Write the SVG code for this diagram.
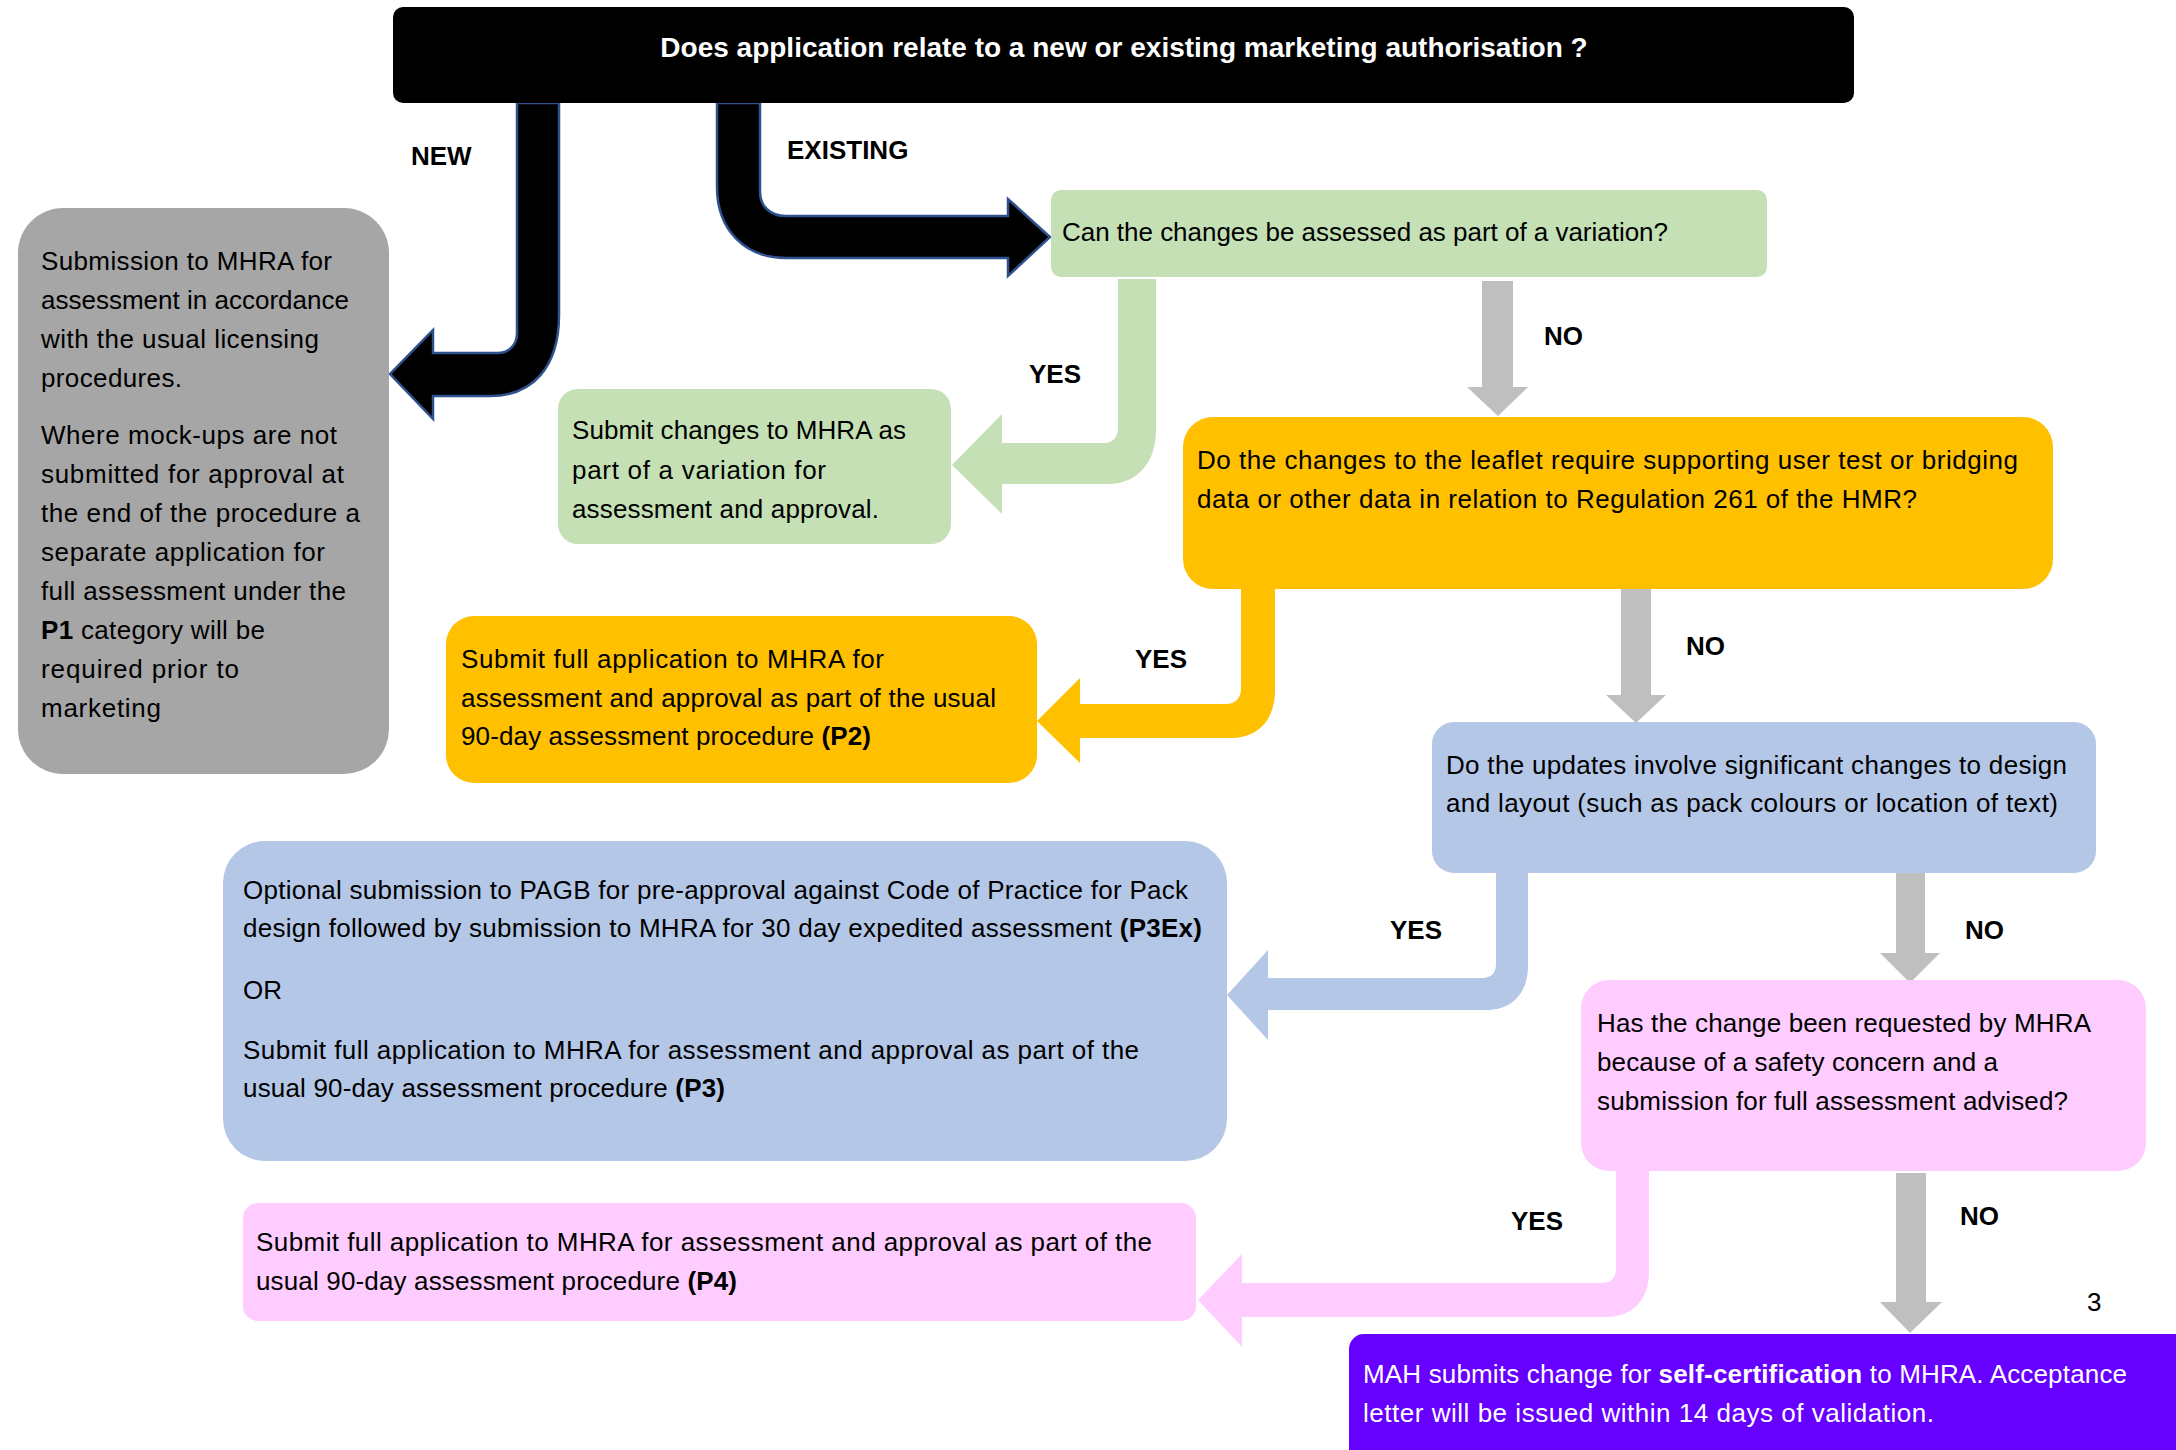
<svg xmlns="http://www.w3.org/2000/svg" width="2176" height="1450" viewBox="0 0 2176 1450">
<style>
  text { font-family: "Liberation Sans", Arial, sans-serif; font-size: 26px; fill: #000; }
  .b { font-weight: bold; }
  .title { font-size: 28px; font-weight: bold; fill: #fff; }
  .lbl { font-size: 26px; font-weight: bold; }
  .w { fill: #fff; }
  .blk { fill: #000; stroke: #2F528F; stroke-width: 2.5; stroke-linejoin: miter; }
  .gry { fill: #BFBFBF; }
  .grn { fill: #C5E0B4; }
  .org { fill: #FFC000; }
  .blu { fill: #B4C7E7; }
  .pnk { fill: #FFCCFF; }
</style>
<rect width="2176" height="1450" fill="#fff"/>

<g id="connectors">
  <!-- NEW -->
  <path class="blk" d="M517 103 L559 103 L559 315 C559 368 532 396 490 396 L433 396 L433 419 L390 374 L433 330 L433 353 L497 353 C509 353 517 345 517 333 Z"/>
  <!-- EXISTING -->
  <path class="blk" d="M717 103 L760 103 L760 192 C760 206 770 216 786 216 L1008 216 L1008 199 L1050 237 L1008 276 L1008 258 L786 258 C745 258 717 230 717 187 Z"/>
  <!-- green YES -->
  <path class="grn" d="M1118 279 L1156 279 L1156 430 C1156 462 1138 484 1108 484 L1002 484 L1002 514 L952 465 L1002 414 L1002 443 L1103 443 C1113 443 1118 437 1118 428 Z"/>
  <!-- NO 1 -->
  <path class="gry" d="M1482 281 L1513 281 L1513 387 L1528 387 L1498 416 L1467 387 L1482 387 Z"/>
  <!-- orange YES -->
  <path class="org" d="M1241 589 L1275 589 L1275 690 C1275 720 1258 738 1230 738 L1080 738 L1080 763 L1037 721 L1080 678 L1080 704 L1226 704 C1235 704 1241 698 1241 689 Z"/>
  <!-- NO 2 -->
  <path class="gry" d="M1621 589 L1651 589 L1651 695 L1666 695 L1636 723 L1606 695 L1621 695 Z"/>
  <!-- blue YES -->
  <path class="blu" d="M1496 873 L1528 873 L1528 966 C1528 993 1512 1010 1486 1010 L1268 1010 L1268 1040 L1227 995 L1268 950 L1268 978 L1482 978 C1491 978 1496 973 1496 964 Z"/>
  <!-- NO 3 -->
  <path class="gry" d="M1896 873 L1925 873 L1925 953 L1940 953 L1910 983 L1880 953 L1896 953 Z"/>
  <!-- pink YES -->
  <path class="pnk" d="M1616 1171 L1649 1171 L1649 1272 C1649 1300 1632 1317 1606 1317 L1242 1317 L1242 1347 L1198 1300 L1242 1254 L1242 1283 L1602 1283 C1611 1283 1616 1278 1616 1269 Z"/>
  <!-- NO 4 -->
  <path class="gry" d="M1896 1173 L1926 1173 L1926 1302 L1942 1302 L1910 1333 L1880 1302 L1896 1302 Z"/>

  <text class="lbl" x="411" y="165">NEW</text>
  <text class="lbl" x="787" y="159">EXISTING</text>
  <text class="lbl" x="1544" y="345">NO</text>
  <text class="lbl" x="1029" y="383">YES</text>
  <text class="lbl" x="1135" y="668">YES</text>
  <text class="lbl" x="1686" y="655">NO</text>
  <text class="lbl" x="1390" y="939">YES</text>
  <text class="lbl" x="1965" y="939">NO</text>
  <text class="lbl" x="1511" y="1230">YES</text>
  <text class="lbl" x="1960" y="1225">NO</text>
</g>

<g id="n-top">
  <rect x="393" y="7" width="1461" height="96" rx="10" fill="#000"/>
  <text class="title" x="1124" y="57" text-anchor="middle">Does application relate to a new or existing marketing authorisation ?</text>
</g>

<g id="n-new">
  <rect x="18" y="208" width="371" height="566" rx="45" fill="#A6A6A6"/>
  <text x="41" y="270" textLength="291">Submission to MHRA for</text>
  <text x="41" y="309" textLength="308">assessment in accordance</text>
  <text x="41" y="348" textLength="278">with the usual licensing</text>
  <text x="41" y="387" textLength="141">procedures.</text>
  <text x="41" y="444" textLength="296">Where mock-ups are not</text>
  <text x="41" y="483" textLength="303">submitted for approval at</text>
  <text x="41" y="522" textLength="319">the end of the procedure a</text>
  <text x="41" y="561" textLength="284">separate application for</text>
  <text x="41" y="600" textLength="305">full assessment under the</text>
  <text x="41" y="639" textLength="224"><tspan class="b">P1</tspan> category will be</text>
  <text x="41" y="678" textLength="198">required prior to</text>
  <text x="41" y="717" textLength="120">marketing</text>
</g>

<g id="n-variation">
  <rect x="1051" y="190" width="716" height="87" rx="10" class="grn"/>
  <text x="1062" y="241" textLength="606">Can the changes be assessed as part of a variation?</text>
</g>

<g id="n-variation-yes">
  <rect x="558" y="389" width="393" height="155" rx="20" class="grn"/>
  <text x="572" y="439" textLength="334">Submit changes to MHRA as</text>
  <text x="572" y="479" textLength="254">part of a variation for</text>
  <text x="572" y="518" textLength="307">assessment and approval.</text>
</g>

<g id="n-leaflet">
  <rect x="1183" y="417" width="870" height="172" rx="30" class="org"/>
  <text x="1197" y="469" textLength="821">Do the changes to the leaflet require supporting user test or bridging</text>
  <text x="1197" y="508" textLength="720">data or other data in relation to Regulation 261 of the HMR?</text>
</g>

<g id="n-p2">
  <rect x="446" y="616" width="591" height="167" rx="28" class="org"/>
  <text x="461" y="668" textLength="423">Submit full application to MHRA for</text>
  <text x="461" y="707" textLength="535">assessment and approval as part of the usual</text>
  <text x="461" y="745" textLength="410">90-day assessment procedure <tspan class="b">(P2)</tspan></text>
</g>

<g id="n-design">
  <rect x="1432" y="722" width="664" height="151" rx="22" class="blu"/>
  <text x="1446" y="774" textLength="621">Do the updates involve significant changes to design</text>
  <text x="1446" y="812" textLength="612">and layout (such as pack colours or location of text)</text>
</g>

<g id="n-p3">
  <rect x="223" y="841" width="1004" height="320" rx="42" class="blu"/>
  <text x="243" y="899" textLength="945">Optional submission to PAGB for pre-approval against Code of Practice for Pack</text>
  <text x="243" y="937" textLength="959">design followed by submission to MHRA for 30 day expedited assessment <tspan class="b">(P3Ex)</tspan></text>
  <text x="243" y="999">OR</text>
  <text x="243" y="1059" textLength="896">Submit full application to MHRA for assessment and approval as part of the</text>
  <text x="243" y="1097" textLength="482">usual 90-day assessment procedure <tspan class="b">(P3)</tspan></text>
</g>

<g id="n-safety">
  <rect x="1581" y="980" width="565" height="191" rx="28" class="pnk"/>
  <text x="1597" y="1032" textLength="494">Has the change been requested by MHRA</text>
  <text x="1597" y="1071" textLength="401">because of a safety concern and a</text>
  <text x="1597" y="1110" textLength="471">submission for full assessment advised?</text>
</g>

<g id="n-p4">
  <rect x="243" y="1203" width="953" height="118" rx="15" class="pnk"/>
  <text x="256" y="1251" textLength="896">Submit full application to MHRA for assessment and approval as part of the</text>
  <text x="256" y="1290" textLength="481">usual 90-day assessment procedure <tspan class="b">(P4)</tspan></text>
</g>

<g id="n-selfcert">
  <rect x="1349" y="1334" width="860" height="140" rx="15" fill="#6600FF"/>
  <text class="w" x="1363" y="1383" textLength="764">MAH submits change for <tspan class="b">self-certification</tspan> to MHRA. Acceptance</text>
  <text class="w" x="1363" y="1422" textLength="571">letter will be issued within 14 days of validation.</text>
</g>

<g id="page-number">
  <text x="2087" y="1311" font-size="24">3</text>
</g>
</svg>
